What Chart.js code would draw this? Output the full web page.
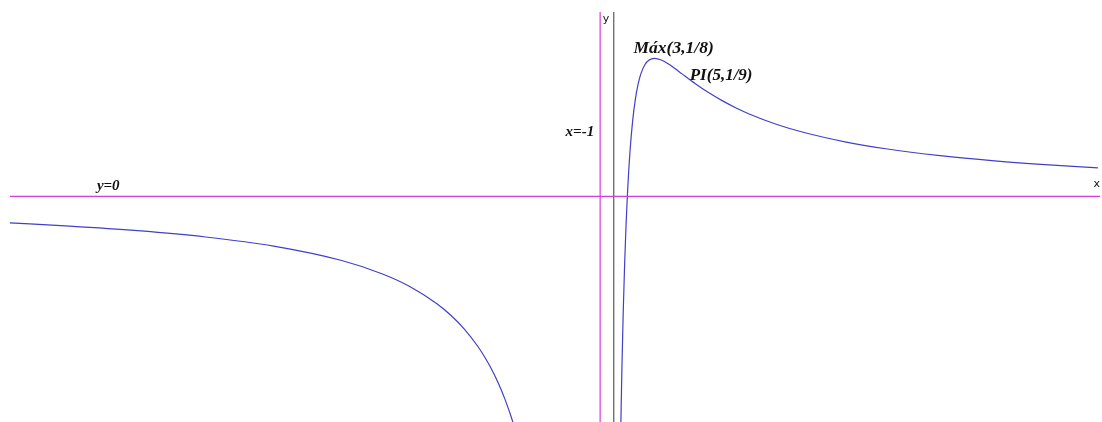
<!DOCTYPE html>
<html>
<head>
<meta charset="utf-8">
<title>f(x) = (x-1)/(x+1)^2</title>
<script src="https://cdn.jsdelivr.net/npm/chart.js@4/dist/chart.umd.min.js"></script>
<style>
  html, body { margin: 0; padding: 0; background: #ffffff; }
  #wrap { position: relative; width: 1102px; height: 422px; }
</style>
</head>
<body>
<div id="wrap"><canvas id="graph" width="1102" height="422"></canvas></div>
<script>
// Left branch of the curve (x < -1)
const leftX = [-44.4, -40, -35, -30, -25, -20, -17, -15, -13, -12, -11, -10, -9.5, -9, -8.5, -8, -7.5, -7.2];
const leftY = [-0.0241, -0.02696, -0.03114, -0.03686, -0.04514, -0.05817, -0.07031, -0.08163, -0.09722,
               -0.10744, -0.12, -0.1358, -0.14533, -0.15625, -0.16889, -0.18367, -0.20118, -0.21332];

// Right branch of the curve (x > -1)
const rightX = [0.5, 0.6, 0.7, 0.8, 0.9, 1, 1.2, 1.4, 1.6, 1.8, 2, 2.3, 2.6, 3, 3.5, 4, 4.5, 5,
                6, 7, 8, 9, 10, 12, 14, 17, 20, 24, 28, 32, 35.6];
const rightY = [-0.2222, -0.15625, -0.10381, -0.06173, -0.0277, 0, 0.04132, 0.06944, 0.08876, 0.10204,
                0.11111, 0.11938, 0.12346, 0.125, 0.12346, 0.12, 0.1157, 0.11111,
                0.10204, 0.09375, 0.08642, 0.08, 0.07438, 0.06509, 0.05778, 0.04938, 0.04308,
                0.0368, 0.0321, 0.02847, 0.02583];

// Asymptotes and the y axis
const horizontalAsymptoteY = 0;
const verticalAsymptoteX = -1;
const yAxisX = 0;

// Visible window of the graph
const xRange = [-45.125, 35.9];
const yRange = [-0.2044, 0.1778];
const lineXSpan = [-44.39, 35.76];
const lineYSpan = [-0.2044, 0.167];

// Annotations
const labelTexts = ['Máx(3,1/8)', 'PI(5,1/9)', 'x=-1', 'y=0', 'y', 'x'];
const labelAnchors = [[3, 0.125], [5, 0.11111], [-1, 0], [-38, 0], [0, 0.167], [35.76, 0]];

const curveColor = '#4040c8';
const asymColor = '#d73cd7';
const axisColor = '#666666';

function pts(xs, ys) { return xs.map((x, i) => ({ x: x, y: ys[i] })); }

const labelStyle = [
  { font: 'italic bold 17.5px "Liberation Serif"', align: 'left', dx: -21, dy: -5 },
  { font: 'italic bold 17px "Liberation Serif"', align: 'left', dx: 8, dy: 6 },
  { font: 'italic bold 15px "Liberation Serif"', align: 'right', dx: -6, dy: -60 },
  { font: 'italic bold 15px "Liberation Serif"', align: 'left', dx: 0, dy: -6 },
  { font: '11px "DejaVu Sans"', align: 'left', dx: -11, dy: 10 },
  { font: '11px "DejaVu Sans"', align: 'right', dx: 0, dy: -9 }
];

const labelPlugin = {
  id: 'graphLabels',
  afterDatasetsDraw(chart) {
    const ctx = chart.ctx;
    const xs = chart.scales.x, ys = chart.scales.y;
    ctx.save();
    ctx.fillStyle = '#111111';
    ctx.textBaseline = 'alphabetic';
    labelTexts.forEach((t, i) => {
      const s = labelStyle[i];
      ctx.font = s.font;
      ctx.textAlign = s.align;
      ctx.fillText(t, xs.getPixelForValue(labelAnchors[i][0]) + s.dx,
                      ys.getPixelForValue(labelAnchors[i][1]) + s.dy);
    });
    ctx.restore();
  }
};

new Chart(document.getElementById('graph'), {
  type: 'scatter',
  data: {
    datasets: [
      { data: [{ x: lineXSpan[0], y: horizontalAsymptoteY }, { x: lineXSpan[1], y: horizontalAsymptoteY }],
        showLine: true, borderColor: asymColor, borderWidth: 1.2, pointRadius: 0 },
      { data: [{ x: verticalAsymptoteX, y: lineYSpan[0] }, { x: verticalAsymptoteX, y: lineYSpan[1] }],
        showLine: true, borderColor: asymColor, borderWidth: 1.2, pointRadius: 0 },
      { data: [{ x: yAxisX, y: lineYSpan[0] }, { x: yAxisX, y: lineYSpan[1] }],
        showLine: true, borderColor: axisColor, borderWidth: 1.3, pointRadius: 0 },
      { data: pts(leftX, leftY), showLine: true, borderColor: curveColor, borderWidth: 1.2,
        pointRadius: 0, cubicInterpolationMode: 'monotone' },
      { data: pts(rightX, rightY), showLine: true, borderColor: curveColor, borderWidth: 1.2,
        pointRadius: 0, cubicInterpolationMode: 'monotone' }
    ]
  },
  options: {
    responsive: false,
    animation: false,
    layout: { padding: 0 },
    plugins: { legend: { display: false }, tooltip: { enabled: false } },
    scales: {
      x: { type: 'linear', min: xRange[0], max: xRange[1], display: false },
      y: { type: 'linear', min: yRange[0], max: yRange[1], display: false }
    }
  },
  plugins: [labelPlugin]
});
</script>
</body>
</html>
